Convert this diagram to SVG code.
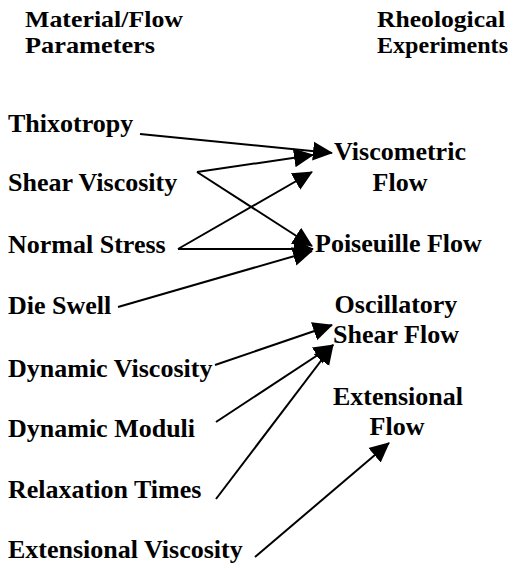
<svg xmlns="http://www.w3.org/2000/svg" width="525" height="570" viewBox="0 0 525 570">
  <style>
    .lbl { font-family: 'Liberation Serif', 'Times New Roman', 'DejaVu Serif', serif; font-weight: bold; font-size: 26px; fill: #000; }
    .hdr { font-size: 23px; }
    .mid { text-anchor: middle; }
    .conn line { stroke: #000; stroke-width: 2; fill: none; marker-end: url(#head); }
  </style>
  <defs>
    <marker id="head" viewBox="0 0 20 20" refX="19" refY="10" markerWidth="20" markerHeight="20" markerUnits="userSpaceOnUse" orient="auto">
      <path d="M0,0.5 L20,10 L0,19.5 z" fill="#000"/>
    </marker>
  </defs>
  <rect width="525" height="570" fill="#fff"/>

  <g class="lbl" font-family="Liberation Serif, Times New Roman, serif" font-weight="bold">
    <!-- column headings -->
    <g id="heading-parameters">
      <text class="hdr" x="25" y="27" textLength="158" lengthAdjust="spacingAndGlyphs">Material/Flow</text>
      <text class="hdr" x="25" y="53" textLength="130" lengthAdjust="spacingAndGlyphs">Parameters</text>
    </g>
    <g id="heading-experiments">
      <text class="hdr" x="377" y="27" textLength="128" lengthAdjust="spacingAndGlyphs">Rheological</text>
      <text class="hdr" x="377" y="53" textLength="131" lengthAdjust="spacingAndGlyphs">Experiments</text>
    </g>

    <!-- material / flow parameters -->
    <g id="thixotropy"><text x="8" y="132">Thixotropy</text></g>
    <g id="shear-viscosity"><text x="8" y="191">Shear Viscosity</text></g>
    <g id="normal-stress"><text x="8" y="253">Normal Stress</text></g>
    <g id="die-swell"><text x="8" y="314">Die Swell</text></g>
    <g id="dynamic-viscosity"><text x="8" y="377">Dynamic Viscosity</text></g>
    <g id="dynamic-moduli"><text x="8" y="437">Dynamic Moduli</text></g>
    <g id="relaxation-times"><text x="8" y="498">Relaxation Times</text></g>
    <g id="extensional-viscosity"><text x="8" y="558">Extensional Viscosity</text></g>

    <!-- rheological experiments -->
    <g id="viscometric-flow">
      <text class="mid" x="400" y="160">Viscometric</text>
      <text class="mid" x="400" y="191">Flow</text>
    </g>
    <g id="poiseuille-flow"><text x="315" y="252">Poiseuille Flow</text></g>
    <g id="oscillatory-shear-flow">
      <text class="mid" x="396" y="313">Oscillatory</text>
      <text class="mid" x="396" y="343">Shear Flow</text>
    </g>
    <g id="extensional-flow">
      <text class="mid" x="398" y="405">Extensional</text>
      <text class="mid" x="397" y="435">Flow</text>
    </g>
  </g>

  <!-- connectors -->
  <g id="connectors" class="conn">
    <line x1="140" y1="134" x2="332" y2="153"/>
    <line x1="197" y1="172" x2="313" y2="155"/>
    <line x1="197" y1="172" x2="312" y2="246"/>
    <line x1="178" y1="249" x2="312" y2="172"/>
    <line x1="178" y1="249" x2="313" y2="249"/>
    <line x1="118" y1="307" x2="312" y2="251"/>
    <line x1="215" y1="365" x2="332" y2="325"/>
    <line x1="216" y1="422" x2="333" y2="345"/>
    <line x1="216" y1="499" x2="333" y2="345"/>
    <line x1="255" y1="557" x2="389" y2="443"/>
  </g>
</svg>
